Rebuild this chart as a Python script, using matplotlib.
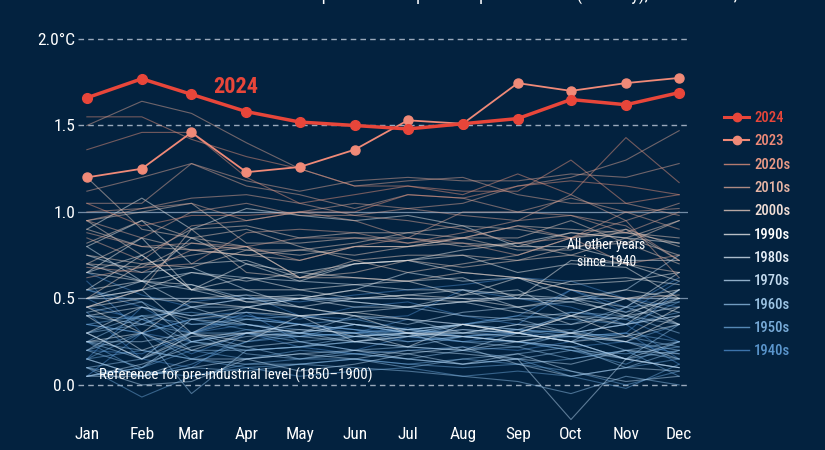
import matplotlib
matplotlib.use("Agg")
import matplotlib.pyplot as plt
from matplotlib.lines import Line2D

plt.rcParams['font.family'] = ['Roboto Condensed', 'Roboto', 'DejaVu Sans']

months = ["Jan", "Feb", "Mar", "Apr", "May", "Jun", "Jul", "Aug", "Sep", "Oct", "Nov", "Dec"]
month_day = [0, 31, 59, 90, 120, 151, 181, 212, 243, 273, 304, 334]

y2024 = [1.66, 1.77, 1.68, 1.58, 1.52, 1.50, 1.48, 1.51, 1.54, 1.65, 1.62, 1.69]
y2023 = [1.20, 1.25, 1.46, 1.23, 1.26, 1.36, 1.53, 1.51, 1.745, 1.70, 1.745, 1.775]

d1940s = [
    [0.05, 0.30, 0.18, 0.30, 0.28, 0.30, 0.33, 0.28, 0.30, 0.25, 0.30, 0.55],
    [0.55, 0.45, 0.40, 0.42, 0.38, 0.45, 0.48, 0.40, 0.35, 0.55, 0.42, 0.60],
    [0.60, 0.30, 0.38, 0.40, 0.35, 0.32, 0.30, 0.28, 0.32, 0.30, 0.35, 0.40],
    [0.15, 0.45, 0.30, 0.40, 0.35, 0.30, 0.38, 0.35, 0.40, 0.55, 0.45, 0.62],
    [0.65, 0.52, 0.45, 0.50, 0.48, 0.52, 0.55, 0.58, 0.62, 0.60, 0.50, 0.45],
    [0.50, 0.35, 0.48, 0.52, 0.40, 0.38, 0.40, 0.55, 0.50, 0.45, 0.35, 0.15],
    [0.45, 0.38, 0.30, 0.42, 0.25, 0.20, 0.28, 0.25, 0.30, 0.28, 0.30, 0.12],
    [0.20, 0.18, 0.30, 0.35, 0.30, 0.35, 0.30, 0.32, 0.30, 0.42, 0.38, 0.25],
    [0.42, 0.15, 0.10, 0.30, 0.35, 0.32, 0.25, 0.28, 0.25, 0.22, 0.25, 0.18],
    [0.35, 0.30, 0.25, 0.30, 0.22, 0.18, 0.20, 0.22, 0.20, 0.25, 0.15, 0.10],
]
d1950s = [
    [0.05, 0.10, 0.20, 0.15, 0.20, 0.18, 0.15, 0.12, 0.15, 0.05, -0.02, 0.12],
    [0.10, 0.05, 0.12, 0.25, 0.30, 0.28, 0.32, 0.35, 0.40, 0.38, 0.35, 0.48],
    [0.40, 0.38, 0.25, 0.32, 0.30, 0.28, 0.30, 0.28, 0.25, 0.20, 0.12, 0.25],
    [0.35, 0.40, 0.42, 0.38, 0.35, 0.38, 0.32, 0.35, 0.30, 0.32, 0.25, 0.35],
    [0.15, 0.30, 0.15, 0.10, 0.12, 0.15, 0.12, 0.10, 0.12, 0.15, 0.20, 0.05],
    [0.25, 0.08, 0.05, 0.12, 0.15, 0.15, 0.12, 0.15, 0.12, 0.08, 0.00, 0.08],
    [0.10, -0.07, 0.05, 0.10, 0.05, 0.08, 0.10, 0.05, 0.08, 0.05, 0.10, 0.15],
    [0.15, 0.20, 0.15, 0.25, 0.28, 0.35, 0.30, 0.35, 0.32, 0.30, 0.35, 0.42],
    [0.55, 0.48, 0.35, 0.35, 0.32, 0.30, 0.32, 0.28, 0.25, 0.28, 0.30, 0.25],
    [0.35, 0.30, 0.38, 0.32, 0.28, 0.30, 0.28, 0.25, 0.25, 0.20, 0.18, 0.22],
]
d1960s = [
    [0.20, 0.30, -0.05, 0.20, 0.22, 0.25, 0.22, 0.28, 0.30, 0.25, 0.15, 0.35],
    [0.30, 0.40, 0.35, 0.38, 0.35, 0.32, 0.28, 0.30, 0.32, 0.28, 0.25, 0.20],
    [0.30, 0.35, 0.30, 0.30, 0.25, 0.28, 0.25, 0.28, 0.25, 0.30, 0.28, 0.22],
    [0.25, 0.40, 0.20, 0.20, 0.22, 0.25, 0.28, 0.35, 0.38, 0.42, 0.40, 0.30],
    [0.25, 0.20, 0.15, 0.12, 0.12, 0.10, 0.08, 0.05, 0.02, -0.05, 0.05, 0.00],
    [0.15, 0.05, 0.10, 0.08, 0.12, 0.15, 0.10, 0.15, 0.18, 0.22, 0.10, 0.20],
    [0.10, 0.15, 0.25, 0.20, 0.22, 0.28, 0.30, 0.25, 0.22, 0.15, 0.20, 0.15],
    [0.20, 0.10, 0.25, 0.22, 0.15, 0.20, 0.22, 0.20, 0.22, 0.30, 0.20, 0.25],
    [0.05, 0.10, 0.30, 0.18, 0.15, 0.18, 0.15, 0.20, 0.15, 0.20, 0.15, 0.20],
    [0.25, 0.15, 0.30, 0.38, 0.40, 0.35, 0.32, 0.30, 0.35, 0.35, 0.45, 0.48],
]
d1970s = [
    [0.42, 0.48, 0.25, 0.30, 0.28, 0.25, 0.22, 0.20, 0.25, 0.22, 0.15, 0.10],
    [0.15, 0.05, 0.10, 0.15, 0.18, 0.15, 0.20, 0.18, 0.15, 0.12, 0.20, 0.18],
    [0.05, 0.12, 0.22, 0.28, 0.30, 0.35, 0.30, 0.35, 0.32, 0.40, 0.38, 0.50],
    [0.50, 0.55, 0.58, 0.50, 0.45, 0.40, 0.38, 0.30, 0.28, 0.28, 0.25, 0.15],
    [0.05, 0.05, 0.15, 0.15, 0.18, 0.20, 0.18, 0.22, 0.12, 0.05, 0.10, 0.08],
    [0.25, 0.25, 0.30, 0.22, 0.25, 0.20, 0.15, 0.12, 0.18, 0.08, 0.02, 0.05],
    [0.10, 0.00, 0.02, 0.15, 0.08, 0.12, 0.18, 0.12, 0.15, -0.20, 0.15, 0.25],
    [0.20, 0.38, 0.45, 0.45, 0.50, 0.48, 0.45, 0.40, 0.38, 0.30, 0.45, 0.35],
    [0.40, 0.35, 0.45, 0.35, 0.30, 0.25, 0.30, 0.20, 0.30, 0.25, 0.40, 0.35],
    [0.30, 0.15, 0.38, 0.35, 0.30, 0.40, 0.35, 0.42, 0.45, 0.48, 0.55, 0.75],
]
d1980s = [
    [0.50, 0.60, 0.45, 0.50, 0.52, 0.48, 0.45, 0.48, 0.42, 0.40, 0.50, 0.42],
    [0.75, 0.65, 0.68, 0.55, 0.45, 0.50, 0.52, 0.55, 0.45, 0.35, 0.40, 0.55],
    [0.25, 0.30, 0.20, 0.30, 0.35, 0.28, 0.30, 0.30, 0.35, 0.30, 0.35, 0.55],
    [0.70, 0.60, 0.55, 0.48, 0.50, 0.45, 0.45, 0.52, 0.55, 0.40, 0.50, 0.35],
    [0.40, 0.20, 0.30, 0.25, 0.40, 0.25, 0.28, 0.32, 0.30, 0.25, 0.15, 0.10],
    [0.30, 0.15, 0.28, 0.30, 0.32, 0.30, 0.22, 0.35, 0.30, 0.25, 0.28, 0.35],
    [0.40, 0.45, 0.38, 0.42, 0.40, 0.35, 0.32, 0.35, 0.30, 0.40, 0.35, 0.40],
    [0.45, 0.55, 0.30, 0.45, 0.50, 0.55, 0.65, 0.60, 0.62, 0.50, 0.45, 0.65],
    [0.80, 0.60, 0.65, 0.62, 0.60, 0.58, 0.55, 0.55, 0.52, 0.50, 0.40, 0.45],
    [0.30, 0.45, 0.40, 0.45, 0.40, 0.42, 0.45, 0.48, 0.50, 0.48, 0.42, 0.50],
]
d1990s = [
    [0.55, 0.60, 0.85, 0.70, 0.65, 0.62, 0.60, 0.62, 0.50, 0.72, 0.70, 0.60],
    [0.65, 0.75, 0.55, 0.70, 0.60, 0.70, 0.72, 0.65, 0.62, 0.55, 0.50, 0.55],
    [0.65, 0.60, 0.58, 0.48, 0.45, 0.40, 0.30, 0.28, 0.25, 0.30, 0.25, 0.40],
    [0.45, 0.50, 0.48, 0.45, 0.40, 0.42, 0.38, 0.35, 0.30, 0.40, 0.28, 0.45],
    [0.45, 0.30, 0.50, 0.52, 0.50, 0.55, 0.50, 0.48, 0.52, 0.60, 0.62, 0.58],
    [0.80, 0.95, 0.70, 0.72, 0.62, 0.70, 0.72, 0.75, 0.65, 0.70, 0.68, 0.50],
    [0.55, 0.75, 0.55, 0.55, 0.55, 0.50, 0.52, 0.50, 0.45, 0.50, 0.55, 0.50],
    [0.50, 0.55, 0.65, 0.60, 0.65, 0.70, 0.72, 0.78, 0.82, 0.88, 0.85, 0.82],
    [0.90, 1.08, 0.90, 1.02, 0.98, 0.95, 0.98, 0.92, 0.80, 0.80, 0.72, 0.72],
    [0.65, 0.85, 0.55, 0.62, 0.55, 0.58, 0.60, 0.52, 0.62, 0.58, 0.60, 0.65],
]
d2000s = [
    [0.50, 0.70, 0.75, 0.80, 0.62, 0.62, 0.60, 0.65, 0.62, 0.55, 0.50, 0.52],
    [0.70, 0.68, 0.82, 0.78, 0.75, 0.80, 0.80, 0.85, 0.78, 0.78, 0.90, 0.80],
    [0.95, 1.00, 1.05, 0.82, 0.82, 0.85, 0.85, 0.80, 0.82, 0.75, 0.85, 0.75],
    [0.90, 0.80, 0.78, 0.75, 0.78, 0.75, 0.80, 0.85, 0.85, 0.95, 0.82, 0.95],
    [0.82, 0.95, 0.85, 0.80, 0.62, 0.72, 0.65, 0.70, 0.75, 0.85, 0.90, 0.72],
    [0.95, 0.75, 0.90, 0.92, 0.85, 0.88, 0.88, 0.85, 0.92, 0.90, 0.88, 0.85],
    [0.70, 0.85, 0.78, 0.75, 0.72, 0.80, 0.80, 0.82, 0.80, 0.88, 0.85, 0.95],
    [1.20, 0.90, 0.85, 0.90, 0.80, 0.72, 0.75, 0.75, 0.72, 0.75, 0.70, 0.65],
    [0.45, 0.55, 0.90, 0.65, 0.62, 0.65, 0.72, 0.68, 0.72, 0.80, 0.82, 0.70],
    [0.75, 0.70, 0.68, 0.78, 0.78, 0.82, 0.88, 0.92, 0.90, 0.85, 0.88, 0.82],
]
d2010s = [
    [0.95, 1.02, 1.08, 1.10, 1.05, 0.98, 0.95, 0.90, 0.82, 0.85, 0.95, 0.62],
    [0.68, 0.65, 0.78, 0.80, 0.72, 0.80, 0.85, 0.82, 0.75, 0.85, 0.70, 0.75],
    [0.62, 0.68, 0.70, 0.88, 0.90, 0.88, 0.82, 0.88, 0.95, 0.98, 0.92, 0.72],
    [0.88, 0.80, 0.82, 0.80, 0.85, 0.85, 0.82, 0.85, 0.92, 0.85, 1.00, 0.90],
    [0.85, 0.72, 0.92, 0.95, 1.00, 0.95, 0.85, 1.00, 1.00, 0.98, 0.88, 1.00],
    [1.00, 1.02, 1.05, 0.95, 1.00, 1.05, 1.02, 1.05, 1.15, 1.20, 1.30, 1.47],
    [1.50, 1.64, 1.57, 1.40, 1.25, 1.15, 1.18, 1.20, 1.10, 1.05, 1.05, 0.98],
    [1.12, 1.20, 1.28, 1.15, 1.10, 1.02, 1.10, 1.08, 1.00, 1.08, 1.00, 1.02],
    [0.95, 0.85, 1.00, 1.05, 0.98, 0.98, 1.02, 0.98, 0.95, 1.10, 0.95, 1.05],
    [1.05, 1.05, 1.28, 1.18, 1.12, 1.18, 1.20, 1.18, 1.18, 1.22, 1.20, 1.28],
]
d2020s = [
    [1.55, 1.55, 1.42, 1.32, 1.25, 1.15, 1.15, 1.10, 1.22, 1.10, 1.43, 1.17],
    [1.05, 0.92, 0.98, 0.98, 1.00, 1.00, 1.10, 1.08, 1.15, 1.18, 1.15, 1.10],
    [1.36, 1.46, 1.46, 1.20, 1.05, 1.10, 1.15, 1.12, 1.12, 1.30, 1.05, 1.10],
]

decade_labels = ["1940s", "1950s", "1960s", "1970s", "1980s", "1990s", "2000s", "2010s", "2020s"]
decade_data = [d1940s, d1950s, d1960s, d1970s, d1980s, d1990s, d2000s, d2010s, d2020s]
line_colors = ["#4b88c6", "#6aa2d4", "#8dbbe2", "#b4d2ec", "#d6e4f0", "#e8e8e8", "#e5cabd", "#d9a595", "#e0917c"]
text_colors = ["#5a95cc", "#78abd8", "#9cc4e4", "#c4dbef", "#e4edf6", "#ffffff", "#f0ddd5", "#e6b4a4", "#ea9a86"]

BG = "#03223f"
RED = "#e8463a"
SALMON = "#f08a78"

fig = plt.figure(figsize=(8.25, 4.5), dpi=100, facecolor=BG)
ax = fig.add_axes([78 / 825, (450 - 423) / 450, (688 - 78) / 825, (423 - 30.35) / 450])
ax.set_facecolor(BG)
ax.set_xlim(-5, 339)
ax.set_ylim(-0.22, 2.05)
for s in ax.spines.values():
    s.set_visible(False)

# grid
for v in [0.0, 1.5, 2.0]:
    ax.axhline(v, color="#9aa9bb", lw=1.0, ls=(0, (4, 3)), zorder=1)
for v in [0.5, 1.0]:
    ax.axhline(v, color="#8fa6bf", lw=0.9, alpha=0.8, zorder=1)

for data, col in zip(decade_data, line_colors):
    for row in data:
        ax.plot(month_day, row, color=col, lw=0.8, alpha=0.5, zorder=2)

ax.plot(month_day, y2023, color=SALMON, lw=1.3, marker="o", ms=6.5, zorder=4)
ax.plot(month_day, y2024, color=RED, lw=2.5, marker="o", ms=7, zorder=5)

ax.set_xticks(month_day)
ax.set_xticklabels(months)
ax.set_yticks([0.0, 0.5, 1.0, 1.5, 2.0])
ax.set_yticklabels(["0.0", "0.5", "1.0", "1.5", "2.0°C"])
ax.tick_params(axis="x", length=0, pad=3, labelsize=12.5, colors="white")
ax.tick_params(axis="y", length=0, pad=2, labelsize=12.5, colors="white")

ax.text(84, 1.72, "2024", color=RED, fontsize=16, fontweight="bold", ha="center", va="center", zorder=6)
ax.text(293, 0.76, "All other years\nsince 1940", color="white", fontsize=10, ha="center", va="center",
        linespacing=1.2, zorder=6)
ax.text(7, 0.055, "Reference for pre-industrial level (1850–1900)", color="white", fontsize=10.8,
        ha="left", va="center", zorder=6)

fig.text(0.56, 0.9975, "Global surface air temperature compared to pre-industrial (monthly), 1940–2024, °C",
         color="white", fontsize=13, ha="center", va="baseline")

handles = [Line2D([], [], color=RED, lw=2.2, marker="o", ms=6),
           Line2D([], [], color=SALMON, lw=1.5, marker="o", ms=6)]
labels = ["2024", "2023"]
tcols = [RED, SALMON]
for lab, lc, tc in zip(decade_labels[::-1], line_colors[::-1], text_colors[::-1]):
    handles.append(Line2D([], [], color=lc, lw=1.0, alpha=0.8))
    labels.append(lab)
    tcols.append(tc)
leg = fig.legend(handles, labels, loc="upper left", bbox_to_anchor=(711 / 825, 1 - 98 / 450),
                 frameon=False, labelspacing=0.64, handlelength=1.7, handletextpad=0.35,
                 prop={"size": 10.5, "weight": "medium"})
for t, c in zip(leg.get_texts(), tcols):
    t.set_color(c)

fig.savefig("out.png", dpi=100, facecolor=BG)
